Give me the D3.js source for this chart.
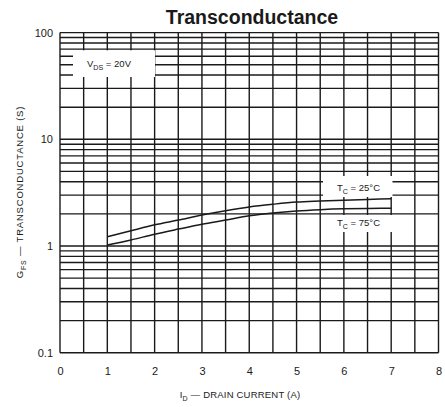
<!DOCTYPE html>
<html>
<head>
<meta charset="utf-8">
<script src="https://cdn.jsdelivr.net/npm/d3@7/dist/d3.min.js"></script>
<style>
  html, body { margin: 0; padding: 0; background: #fff; }
  svg { display: block; font-family: "Liberation Sans", Arial, sans-serif; }
</style>
</head>
<body>
<svg id="chart" width="445" height="407"></svg>
<script>
// Drain current samples (A)
const drainCurrent = [1, 1.5, 2, 2.5, 3, 3.5, 4, 4.5, 5, 5.5, 6, 6.5, 7];
// Forward transconductance (S) at each case temperature
const gfs25 = [1.22, 1.39, 1.58, 1.75, 1.95, 2.14, 2.32, 2.46, 2.58, 2.64, 2.69, 2.73, 2.77];
const gfs75 = [1.02, 1.14, 1.29, 1.44, 1.60, 1.75, 1.92, 2.04, 2.13, 2.19, 2.23, 2.25, 2.26];
const seriesNames = ["25°C", "75°C"];
// Axis ticks
const xTicks = [0, 1, 2, 3, 4, 5, 6, 7, 8];
const yTicks = [0.1, 1, 10, 100];
const yTickLabels = ["0.1", "1", "10", "100"];

const svg = d3.select("#chart");
const ink = "#1a1a1a";

const x = d3.scaleLinear().domain([0, 8]).range([60, 438.5]);
const y = d3.scaleLog().domain([0.1, 100]).range([352.7, 32.6]);

// Title
svg.append("text")
  .attr("x", 252).attr("y", 24)
  .attr("text-anchor", "middle")
  .attr("font-size", 19.5).attr("font-weight", "bold")
  .attr("fill", ink)
  .text("Transconductance");

// Grid: vertical every 0.5 A, horizontal at every log minor step
const grid = svg.append("g").attr("stroke", ink).attr("stroke-width", 1.4);
d3.range(0, 8.001, 0.5).forEach(v => {
  grid.append("line")
    .attr("x1", x(v)).attr("x2", x(v))
    .attr("y1", y(100)).attr("y2", y(0.1));
});
const hVals = [];
[0.1, 1, 10].forEach(d => { for (let m = 1; m <= 9; m++) hVals.push(d * m); });
hVals.push(100);
hVals.forEach(v => {
  grid.append("line")
    .attr("x1", x(0)).attr("x2", x(8))
    .attr("y1", y(v)).attr("y2", y(v));
});

// Label panels that clear the grid behind the annotations
const panels = svg.append("g").attr("fill", "#fff");
panels.append("rect").attr("x", 73).attr("y", 50.3).attr("width", 82).attr("height", 26.7);
panels.append("rect").attr("x", 323).attr("y", 176).attr("width", 69.5).attr("height", 21);
panels.append("rect").attr("x", 330).attr("y", 215).attr("width", 62.5).attr("height", 17);

// Axes
const yAxis = d3.axisLeft(y)
  .tickValues(yTicks)
  .tickFormat((d, i) => yTickLabels[i])
  .tickSize(0).tickPadding(7);
const gy = svg.append("g").attr("transform", `translate(${x(0)},0)`).call(yAxis);
gy.select(".domain").remove();
gy.selectAll("text").attr("font-size", 11).attr("fill", ink)
  .attr("font-family", "Liberation Sans, Arial, sans-serif");

const xAxis = d3.axisBottom(x)
  .tickValues(xTicks)
  .tickFormat(d3.format("d"))
  .tickSize(0).tickPadding(15);
const gx = svg.append("g").attr("transform", `translate(0,${y(0.1)})`).call(xAxis);
gx.select(".domain").remove();
gx.selectAll("text").attr("font-size", 11).attr("fill", ink)
  .attr("font-family", "Liberation Sans, Arial, sans-serif");

// Curves
const line = d3.line()
  .x((d, i) => x(drainCurrent[i]))
  .y(d => y(d))
  .curve(d3.curveMonotoneX);
[gfs25, gfs75].forEach(s => {
  svg.append("path")
    .datum(s)
    .attr("fill", "none")
    .attr("stroke", ink)
    .attr("stroke-width", 1.5)
    .attr("d", line);
});

// Annotation helper: main letter with subscript, then the rest
function subText(g, px, py, main, sub, rest, size) {
  const t = g.append("text")
    .attr("x", px).attr("y", py)
    .attr("font-size", size).attr("fill", ink);
  t.append("tspan").text(main);
  t.append("tspan").attr("font-size", size * 0.75).attr("dy", 2.5).text(sub);
  t.append("tspan").attr("dy", -2.5).text(rest);
  return t;
}

const ann = svg.append("g");
subText(ann, 87, 67, "V", "DS", " = 20V", 9.5);
subText(ann, 337, 191, "T", "C", " = " + seriesNames[0], 9.5);
subText(ann, 337, 226, "T", "C", " = " + seriesNames[1], 9.5);

// Axis titles
const xt = svg.append("text")
  .attr("x", 240).attr("y", 398)
  .attr("text-anchor", "middle")
  .attr("font-size", 9.5).attr("letter-spacing", 0.2).attr("fill", ink);
xt.append("tspan").text("I");
xt.append("tspan").attr("font-size", 7).attr("dy", 2.5).text("D");
xt.append("tspan").attr("dy", -2.5).text(" — DRAIN CURRENT   (A)");

const yt = svg.append("text")
  .attr("transform", "translate(23,192) rotate(-90)")
  .attr("text-anchor", "middle")
  .attr("font-size", 9.5).attr("letter-spacing", 0.8).attr("fill", ink);
yt.append("tspan").text("G");
yt.append("tspan").attr("font-size", 7).attr("dy", 2.5).text("FS");
yt.append("tspan").attr("dy", -2.5).text("  —  TRANSCONDUCTANCE   (S)");
</script>
</body>
</html>
